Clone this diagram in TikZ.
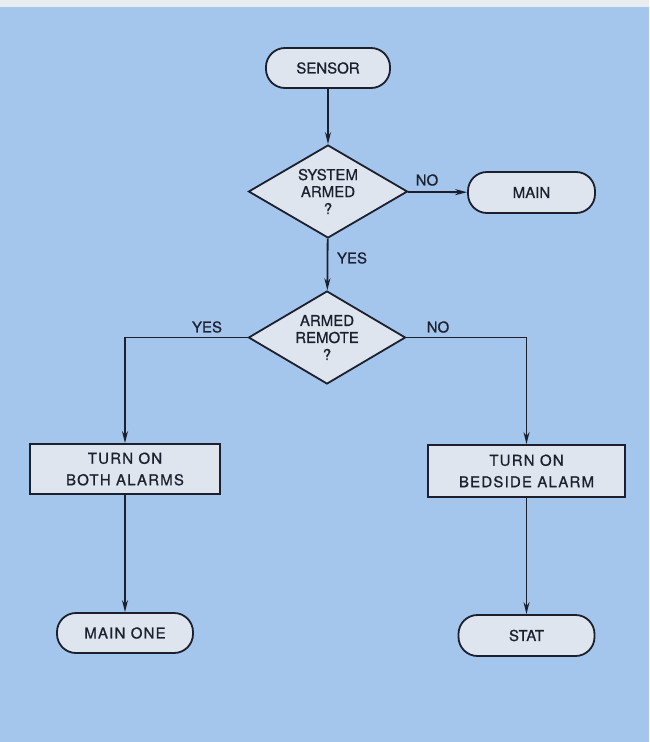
\documentclass[tikz,border=0pt]{standalone}
\usepackage{fontspec}
\setmainfont{TeX Gyre Heros}[FakeBold=0.7]
\newfontfamily\spacedfont{TeX Gyre Heros}[LetterSpace=8,FakeBold=0.7]
\usetikzlibrary{shapes.geometric,arrows.meta}
\definecolor{bgblue}{RGB}{164,198,236}
\definecolor{topstrip}{RGB}{234,237,238}
\definecolor{boxfill}{RGB}{222,229,239}
\definecolor{ink}{RGB}{28,32,46}
\begin{document}
\begin{tikzpicture}[x=1pt,y=-1pt,
  base/.style={draw=ink, line width=1.8pt, fill=boxfill, text=ink, align=center, inner sep=0pt,
    font=\fontsize{15}{17}\selectfont},
  term/.style={base, rectangle, rounded corners=19pt},
  proc/.style={base, rectangle, font=\spacedfont\fontsize{15}{21.5}\selectfont},
  dec/.style={base, diamond, aspect=1.7},
  arr/.style={draw=ink, line width=1.8pt, -{Stealth[length=12pt,width=6pt]}},
  lbl/.style={text=ink, inner sep=0pt, font=\fontsize{15}{17}\selectfont}]
\fill[bgblue] (0,0) rectangle (649,742);
\fill[topstrip] (0,0) rectangle (649,7);
\useasboundingbox (0,0) rectangle (649,742);

\node[term, minimum width=124pt, minimum height=40pt] (sensor) at (328,68) {SENSOR};
\node[dec, minimum width=159pt, minimum height=93pt] (d1) at (328,191.5) {SYSTEM\\ARMED\\?};
\node[term, minimum width=127pt, minimum height=41pt] (main) at (531.5,192.5) {MAIN};
\node[dec, minimum width=157pt, minimum height=93pt] (d2) at (327,337.5) {ARMED\\REMOTE\\?};
\node[proc, minimum width=190pt, minimum height=50pt] (lbox) at (125,469) {TURN ON\\BOTH ALARMS};
\node[proc, minimum width=197pt, minimum height=52pt] (rbox) at (526.5,471) {TURN ON\\BEDSIDE ALARM};
\node[term, minimum width=136pt, minimum height=40pt, font=\spacedfont\fontsize{15}{17}\selectfont] (mainone) at (125,633) {MAIN ONE};
\node[term, minimum width=136pt, minimum height=41pt] (stat) at (526.5,635.5) {STAT};

\draw[arr] (sensor) -- (d1);
\draw[arr] (d1) -- (main);
\draw[arr] (d1) -- (d2);
\draw[arr] (d2.west) -| (lbox.north);
\draw[arr] (d2.east) -| (rbox.north);
\draw[arr] (lbox) -- (mainone);
\draw[arr] (rbox) -- (stat);

\node[lbl] (noa) at (427,180) {NO};
\node[lbl] (yesa) at (352,258) {YES};
\node[lbl] (yesb) at (207,327) {YES};
\node[lbl] (nob) at (438,327) {NO};
\end{tikzpicture}
\end{document}
